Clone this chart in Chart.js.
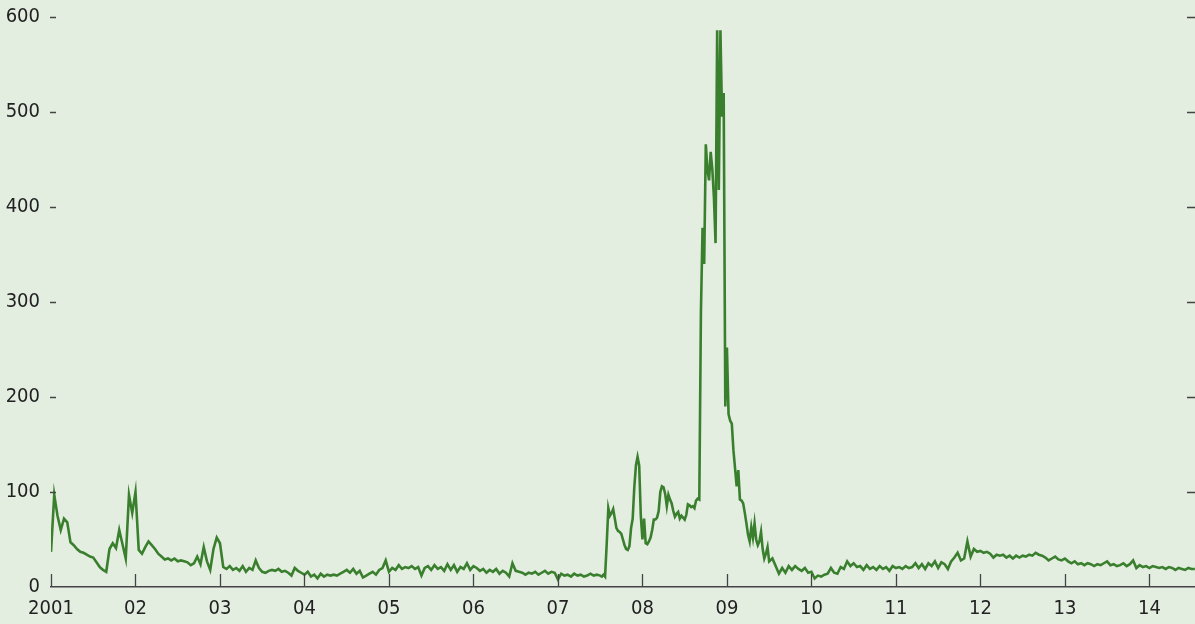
<!DOCTYPE html>
<html>
<head>
<meta charset="utf-8">
<script src="https://cdn.jsdelivr.net/npm/chart.js@4.4.1/dist/chart.umd.min.js"></script>
<style>
  html, body { margin: 0; padding: 0; background: #e3eee1; }
  #wrap { width: 1195px; height: 624px; }
</style>
</head>
<body>
<div id="wrap"><canvas id="spread-chart" width="1195" height="624"></canvas></div>
<script>
// 2001.0 - 2007.5, every two weeks
const valuesA = [
  37, 97, 75, 60, 72, 68, 47, 44, 40, 37, 36, 34, 32, 31, 26, 21, 18, 16, 40, 46,
  41, 60, 45, 30, 97, 78, 100, 39, 35, 42, 48, 44, 40, 35, 32, 29, 30, 28, 30, 27,
  28, 27, 26, 23, 25, 32, 24, 42, 27, 18, 40, 52, 46, 21, 19, 22, 18, 20, 17, 22,
  16, 20, 18, 28, 20, 16, 15, 17, 18, 17, 19, 16, 17, 15, 12, 20, 17, 15, 13, 16,
  11, 13, 9, 14, 11, 13, 12, 13, 12, 14, 16, 18, 15, 19, 14, 17, 10, 12, 14, 16,
  13, 18, 20, 28, 16, 20, 18, 23, 19, 21, 20, 22, 19, 21, 12, 20, 22, 18, 23, 19,
  21, 17, 24, 18, 23, 16, 21, 19, 25, 18, 22, 20, 17, 19, 15, 18, 16, 19, 14, 17,
  15, 11, 25, 17, 16, 15, 13, 15, 14, 16, 13, 15, 17, 14, 16, 15, 8, 14, 12, 13,
  11, 14, 12, 13, 11, 12, 14, 12, 13
];
// 2007.5 - 2009.5, weekly
const valuesB = [
  12, 11, 13, 11, 45, 83, 75, 78, 82, 72, 62, 59, 58, 56, 50, 44, 40, 39, 43, 62,
  72, 105, 128, 137, 128, 75, 50, 72, 46, 45, 48, 52, 60, 71, 71, 73, 80, 100, 106, 105,
  98, 85, 97, 92, 88, 80, 74, 77, 79, 72, 75, 73, 71, 76, 87, 86, 84, 85, 83, 91,
  93, 92, 290, 378, 340, 466, 440, 428, 458, 440, 410, 362, 586, 418, 586, 495, 520, 190, 252, 182,
  175, 172, 144, 125, 106, 123, 92, 91, 88, 78, 67, 55, 48, 63, 52, 67, 50, 44, 48, 58,
  40, 30, 35, 42
];
// 2009.5 - mid 2014, every two weeks
const valuesC = [
  27, 30, 22, 14, 20, 15, 22, 18, 22, 19, 17, 20, 15, 16, 9, 12, 11, 13, 14, 20,
  15, 14, 21, 19, 27, 22, 25, 21, 22, 18, 23, 19, 21, 18, 22, 19, 21, 17, 22, 20,
  21, 19, 22, 20, 21, 25, 20, 24, 19, 25, 22, 27, 20, 26, 24, 19, 27, 31, 36, 28,
  30, 48, 32, 40, 37, 38, 36, 37, 35, 31, 34, 33, 34, 31, 33, 30, 33, 31, 33, 32,
  34, 33, 36, 34, 33, 31, 28, 30, 32, 29, 28, 30, 27, 25, 27, 24, 25, 23, 25, 24,
  22, 24, 23, 25, 27, 23, 24, 22, 23, 25, 22, 24, 28, 20, 23, 21, 22, 20, 22, 21,
  20, 21, 19, 21, 20, 18, 20, 19, 18, 20, 19, 19
];

const yearTicks = [2001, 2002, 2003, 2004, 2005, 2006, 2007, 2008, 2009, 2010, 2011, 2012, 2013, 2014];
const valueTicks = [0, 100, 200, 300, 400, 500, 600];

const FONT = "'Liberation Sans Narrow', 'DejaVu Sans Condensed', 'Arial Narrow', sans-serif";

// 날짜(소수 연도) + 값 묶기
let points = [];
valuesA.forEach((v, i) => points.push({ x: 2001 + i / 26, y: v }));
valuesB.forEach((v, i) => points.push({ x: 2007.5 + i / 52, y: v }));
valuesC.forEach((v, i) => points.push({ x: 2009.5 + i / 26, y: v }));

// 축 안쪽 눈금 그리기
const innerTicks = {
    id: 'innerTicks',
    afterDraw(chart) {
        let { ctx, chartArea, scales } = chart;
        ctx.save();
        ctx.strokeStyle = "#444";
        ctx.lineWidth = 1.3;
        ctx.beginPath();
        valueTicks.forEach(v => {
            if (v === 0) return;
            let y = Math.round(scales.y.getPixelForValue(v)) + 0.5;
            ctx.moveTo(chartArea.left - 1, y);
            ctx.lineTo(chartArea.left + 5, y);
            ctx.moveTo(chartArea.right - 8, y);
            ctx.lineTo(chartArea.right, y);
        });
        yearTicks.forEach(t => {
            let x = Math.round(scales.x.getPixelForValue(t)) + 0.5;
            ctx.moveTo(x, chartArea.bottom);
            ctx.lineTo(x, chartArea.bottom - 13);
        });
        ctx.stroke();
        ctx.restore();
    }
};

new Chart(document.getElementById("spread-chart"), {
    type: 'line',
    data: {
        datasets: [{
            data: points,
            borderColor: "#3a7f2e",
            borderWidth: 2.6,
            pointRadius: 0,
            tension: 0,
            fill: false
        }]
    },
    options: {
        responsive: false,
        animation: false,
        layout: { padding: { top: 17, right: 0, left: 0, bottom: 0 } },
        scales: {
            x: {
                type: 'linear',
                min: 2001,
                max: 2014.54,
                afterBuildTicks: scale => { scale.ticks = yearTicks.map(v => ({ value: v })); },
                afterFit: scale => { scale.height = 37; scale.paddingLeft = 0; scale.paddingRight = 0; },
                grid: { display: false, drawTicks: false },
                border: { display: true, color: "#444", width: 1.6 },
                ticks: {
                    padding: 10,
                    maxRotation: 0,
                    autoSkip: false,
                    color: "#222",
                    font: { family: FONT, size: 20 },
                    callback: v => v === 2001 ? "2001" : String(v).slice(2)
                }
            },
            y: {
                min: 0,
                max: 600,
                afterBuildTicks: scale => { scale.ticks = valueTicks.map(v => ({ value: v })); },
                afterFit: scale => { scale.width = 51; scale.paddingTop = 0; scale.paddingBottom = 0; },
                grid: { display: false, drawTicks: false },
                border: { display: false },
                ticks: {
                    padding: 11,
                    color: "#222",
                    font: { family: FONT, size: 20 }
                }
            }
        },
        plugins: {
            legend: { display: false },
            tooltip: { enabled: false }
        }
    },
    plugins: [innerTicks]
});
</script>
</body>
</html>
